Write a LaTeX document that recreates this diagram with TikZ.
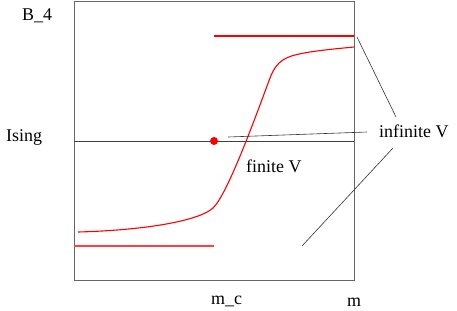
\documentclass[tikz,border=0pt]{standalone}
\usepackage{fontspec}
\setmainfont{Liberation Serif}
\begin{document}
\begin{tikzpicture}[x=1bp,y=-1bp,
  lbl/.style={anchor=base west,inner sep=0pt,font=\fontsize{18}{20}\selectfont},
  frame/.style={draw=black!60,line width=1bp},
  leader/.style={draw=black!80,line width=0.6bp},
  redline/.style={draw=red,line width=1.1bp}]
\useasboundingbox (0,0) rectangle (457,310);
% frame
\draw[frame] (74,1.5) rectangle (354,280.5);
\draw[draw=black!75,line width=0.8bp] (74,141) -- (354,141);
% red curves
\draw[redline] (214,36) -- (354,36);
\draw[redline,draw=red!75] (74,246) -- (214,246);
\draw[redline] (78,232) .. controls (150,230) and (200,220) .. (213,208)
  .. controls (228,194) and (258,110) .. (270,78)
  .. controls (277,60) and (285,56) .. (310,52)
  .. controls (330,49) and (345,48) .. (354,47);
\node[circle,fill=red,inner sep=0pt,minimum size=8bp] (dot) at (214,141) {};
% labels
\node[lbl] (b4) at (22,20) {B\_4};
\node[lbl] (ising) at (6,141) {Ising};
\node[lbl] (inf) at (379,137.5) {infinite V};
\node[lbl] (fin) at (246,172.5) {finite V};
\node[lbl] (mc) at (211,304.5) {m\_c};
\node[lbl] (m) at (347,306) {m};
% leader lines
\coordinate (a1) at (357,37);
\coordinate (a2) at (396,117);
\coordinate (b1) at (228,137);
\coordinate (b2) at (367,132);
\coordinate (c1) at (393,148);
\coordinate (c2) at (302,246);
\draw[leader] (a1) -- (a2);
\draw[leader] (b1) -- (b2);
\draw[leader] (c1) -- (c2);
\end{tikzpicture}
\end{document}
